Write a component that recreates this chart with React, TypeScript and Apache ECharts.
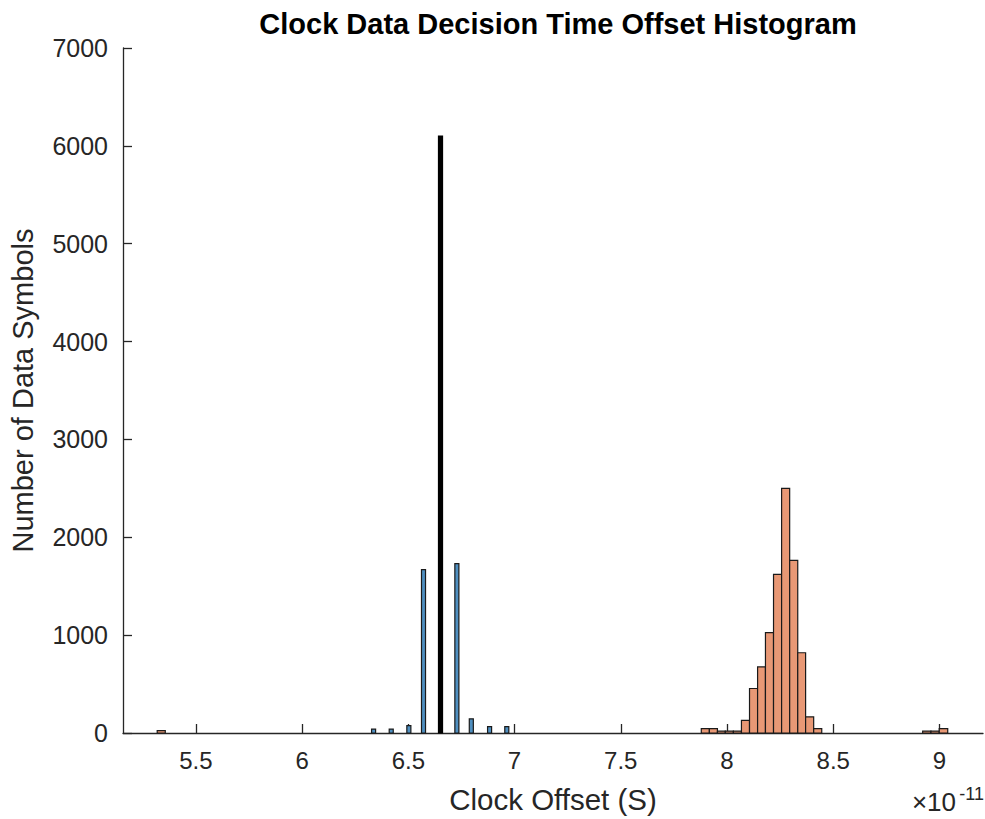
import React, { useEffect, useRef } from "react";
import * as echarts from "echarts";

// Histogram data (x in units of 1e-11 s)
const blueStarts = [6.327, 6.410, 6.493, 6.562, 6.719, 6.787, 6.873, 6.954];
const blueEnds = [6.346, 6.429, 6.512, 6.581, 6.738, 6.806, 6.892, 6.973];
const blueCounts = [40, 40, 75, 1670, 1730, 145, 65, 65];

const peakStarts = [6.642];
const peakEnds = [6.661];
const peakCounts = [6100];

const orangeStarts = [5.318, 7.879, 7.917, 7.955, 7.992, 8.030, 8.068, 8.106, 8.144, 8.181, 8.219, 8.257, 8.295, 8.333, 8.370, 8.408, 8.921, 8.960, 8.999];
const orangeEnds = [5.356, 7.917, 7.955, 7.992, 8.030, 8.068, 8.106, 8.144, 8.181, 8.219, 8.257, 8.295, 8.333, 8.370, 8.408, 8.446, 8.960, 8.999, 9.039];
const orangeCounts = [25, 45, 45, 20, 20, 20, 130, 455, 675, 1025, 1620, 2500, 1765, 820, 165, 45, 20, 20, 45];

const xTicks = [5.5, 6, 6.5, 7, 7.5, 8, 8.5, 9];
const yTicks = [0, 1000, 2000, 3000, 4000, 5000, 6000, 7000];

const FONT = "'Liberation Sans', Arial, Helvetica, sans-serif";
const AXIS = "#262626";

function rows(s: number[], e: number[], c: number[]) {
  return s.map((v, i) => [v, e[i], c[i]]);
}

function makeRender(fill: string, stroke: string) {
  return (params: any, api: any) => {
    const p0 = api.coord([api.value(0), api.value(2)]);
    const p1 = api.coord([api.value(1), 0]);
    return {
      type: "rect",
      shape: { x: p0[0], y: p0[1], width: p1[0] - p0[0], height: p1[1] - p0[1] },
      style: { fill, stroke, lineWidth: 1.2 },
    };
  };
}

export default function App() {
  const ref = useRef<HTMLDivElement>(null);
  useEffect(() => {
    document.body.style.margin = "0";
    const chart = echarts.init(ref.current!, null, { renderer: "svg" });
    chart.setOption({
      animation: false,
      backgroundColor: "#ffffff",
      title: {
        text: "Clock Data Decision Time Offset Histogram",
        left: 553,
        textAlign: "center",
        top: 4,
        textStyle: { fontFamily: FONT, fontSize: 29, fontWeight: "bold", color: "#000" },
      },
      grid: { left: 123, top: 48, right: 2, bottom: 86, containLabel: false, outerBoundsMode: "none" },
      xAxis: {
        type: "value",
        min: 5.157,
        max: 9.205,
        name: "Clock Offset (S)",
        nameLocation: "middle",
        nameGap: 51,
        nameTextStyle: { fontFamily: FONT, fontSize: 29.5, color: AXIS },
        axisLine: { show: true, lineStyle: { color: AXIS, width: 1.3 } },
        axisTick: { show: true, inside: true, length: 9, customValues: xTicks, lineStyle: { color: AXIS, width: 1.3 } },
        axisLabel: {
          customValues: xTicks,
          formatter: (v: number) => String(v),
          fontFamily: FONT,
          fontSize: 24,
          color: AXIS,
          margin: 15,
        },
        splitLine: { show: false },
      },
      yAxis: {
        type: "value",
        min: 0,
        max: 7000,
        interval: 1000,
        name: "Number of Data Symbols",
        nameLocation: "middle",
        nameRotate: 90,
        nameGap: 86,
        nameTextStyle: { fontFamily: FONT, fontSize: 29, color: AXIS },
        axisLine: { show: true, lineStyle: { color: AXIS, width: 1.3 } },
        axisTick: { show: true, inside: true, length: 9, lineStyle: { color: AXIS, width: 1.3 } },
        axisLabel: {
          customValues: yTicks,
          formatter: (v: number) => String(v),
          fontFamily: FONT,
          fontSize: 25,
          color: AXIS,
          margin: 15,
        },
        splitLine: { show: false },
      },
      graphic: [
        {
          type: "text",
          right: 29,
          top: 789,
          style: { text: "×10", fontFamily: FONT, fontSize: 26, fill: AXIS },
        },
        {
          type: "text",
          right: 1,
          top: 785,
          style: { text: "-11", fontFamily: FONT, fontSize: 18, fill: AXIS },
        },
      ],
      series: [
        {
          type: "custom",
          name: "orange",
          renderItem: makeRender("#e89875", "#1a1a1a"),
          encode: { x: [0, 1], y: 2 },
          data: rows(orangeStarts, orangeEnds, orangeCounts),
        },
        {
          type: "custom",
          name: "blue",
          renderItem: makeRender("#4f8fc0", "#1a1a1a"),
          encode: { x: [0, 1], y: 2 },
          data: rows(blueStarts, blueEnds, blueCounts),
        },
        {
          type: "custom",
          name: "peak",
          renderItem: makeRender("#000000", "#000000"),
          encode: { x: [0, 1], y: 2 },
          data: rows(peakStarts, peakEnds, peakCounts),
        },
      ],
    });
    return () => chart.dispose();
  }, []);
  return <div ref={ref} style={{ width: 985, height: 819 }} />;
}
